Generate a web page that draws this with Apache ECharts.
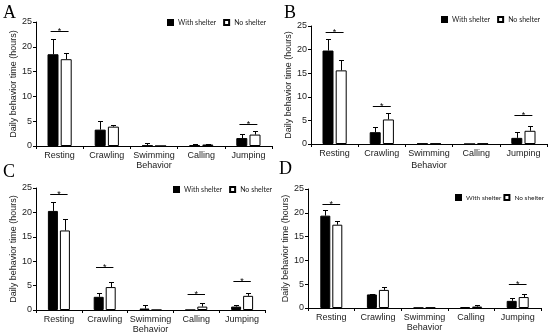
<!DOCTYPE html>
<html>
<head>
<meta charset="utf-8">
<script src="https://cdn.jsdelivr.net/npm/echarts@6/dist/echarts.min.js"></script>
<style>
html,body{margin:0;padding:0;background:#fff;}
#chart{width:550px;height:335px;}
</style>
</head>
<body>
<div id="chart"></div>
<script>
// ---------- data ----------
const categories = ['Resting', 'Crawling', 'Swimming', 'Calling', 'Jumping'];
const yTicks = [0, 5, 10, 15, 20, 25];
const panelLabels = ['A', 'B', 'C', 'D'];
const seriesNames = ['With shelter', 'No shelter'];

// Panel A
const withA    = [18.5, 3.3, 0.1, 0.2, 1.6];
const withErrA = [21.5, 5.0, 0.6, 0.35, 2.5];
const noA      = [17.5, 3.9, 0.0, 0.3, 2.3];
const noErrA   = [18.7, 4.2, 0.0, 0.5, 3.0];
const sigA     = [[0, 23.2], [4, 4.4]];

// Panel B
const withB    = [19.8, 2.5, 0.1, 0.0, 1.3];
const withErrB = [22.2, 3.5, 0.1, 0.0, 2.5];
const noB      = [15.6, 5.2, 0.1, 0.1, 2.8];
const noErrB   = [17.9, 6.6, 0.1, 0.1, 3.8];
const sigB     = [[0, 23.7], [1, 8.0], [4, 6.1]];

// Panel C
const withC    = [20.3, 2.7, 0.3, 0.0, 0.7];
const withErrC = [22.1, 3.4, 1.1, 0.0, 1.1];
const noC      = [16.3, 4.7, 0.0, 0.7, 2.9];
const noErrC   = [18.6, 5.7, 0.0, 1.4, 3.5];
const sigC     = [[0, 23.8], [1, 8.8], [3, 3.3], [4, 5.9]];

// Panel D
const withD    = [19.4, 2.85, 0.05, 0.2, 1.5];
const withErrD = [20.5, 3.0, 0.05, 0.3, 2.0];
const noD      = [17.5, 3.8, 0.1, 0.3, 2.3];
const noErrD   = [18.3, 4.4, 0.1, 0.6, 2.85];
const sigD     = [[0, 21.8], [4, 5.1]];

const panels = [
  {w: withA, we: withErrA, n: noA, ne: noErrA, sig: sigA},
  {w: withB, we: withErrB, n: noB, ne: noErrB, sig: sigB},
  {w: withC, we: withErrC, n: noC, ne: noErrC, sig: sigC},
  {w: withD, we: withErrD, n: noD, ne: noErrD, sig: sigD}
];

// ---------- layout ----------
const layout = [
  {grid: {left: 36, top: 22, width: 236, height: 124}, title: {left: 3, top: 4}, legend: {left: 167, top: 19, fs: 7, gap: 7}, yGap: 18, xGap: 14, bw: 11},
  {grid: {left: 311, top: 26, width: 236, height: 118}, title: {left: 284, top: 4}, legend: {left: 441, top: 16, fs: 7, gap: 7}, yGap: 18, xGap: 17, bw: 11},
  {grid: {left: 36, top: 188, width: 229, height: 122}, title: {left: 3, top: 163}, legend: {left: 173, top: 186, fs: 7, gap: 7}, yGap: 17, xGap: 13, bw: 10},
  {grid: {left: 308, top: 189, width: 233, height: 119}, title: {left: 279, top: 160}, legend: {left: 455, top: 194, fs: 6.5, gap: 2}, yGap: 16, xGap: 11, bw: 10}
];

const txt = '#222';
const labelFont = 'Liberation Sans';

const option = {
  animation: false,
  backgroundColor: '#fff',
  title: [], legend: [], grid: [], xAxis: [], yAxis: [], series: []
};

panels.forEach((p, i) => {
  const L = layout[i];
  option.title.push({
    text: panelLabels[i], left: L.title.left, top: L.title.top, padding: 0,
    textStyle: {fontFamily: 'Liberation Serif', fontSize: 18, fontWeight: 'normal', color: '#000'}
  });
  option.legend.push({
    data: seriesNames, left: L.legend.left, top: L.legend.top, width: 140, orient: 'horizontal', padding: 0,
    itemWidth: 5, itemHeight: 5, itemGap: L.legend.gap, icon: 'rect', selectedMode: false,
    textStyle: {fontFamily: 'Lato', fontSize: L.legend.fs, color: txt}
  });
  option.grid.push(Object.assign({containLabel: false}, L.grid));
  option.xAxis.push({
    type: 'category', gridIndex: i, data: categories,
    name: 'Behavior', nameLocation: 'middle', nameGap: L.xGap,
    nameTextStyle: {fontFamily: labelFont, fontSize: 9, color: txt},
    axisLine: {lineStyle: {color: '#000', width: 1}},
    axisTick: {show: true, length: 3, lineStyle: {color: '#000'}},
    axisLabel: {fontFamily: labelFont, fontSize: 9, color: txt, margin: 5, interval: 0}
  });
  option.yAxis.push({
    type: 'value', gridIndex: i, min: yTicks[0], max: yTicks[yTicks.length - 1], interval: yTicks[1] - yTicks[0],
    name: 'Daily behavior time (hours)', nameLocation: 'middle', nameGap: L.yGap,
    nameTextStyle: {fontFamily: labelFont, fontSize: 9, color: txt},
    axisLine: {show: true, lineStyle: {color: '#000', width: 1}},
    axisTick: {show: true, length: 3, lineStyle: {color: '#000'}},
    axisLabel: {fontFamily: labelFont, fontSize: 9, color: txt, margin: 4},
    splitLine: {show: false}
  });
  const bw = L.bw;
  const gapPct = 20;
  option.series.push({
    name: seriesNames[0], type: 'bar', xAxisIndex: i, yAxisIndex: i, data: p.w,
    barWidth: bw, barGap: gapPct + '%',
    itemStyle: {color: '#000', borderColor: '#000', borderWidth: 1}
  });
  option.series.push({
    name: seriesNames[1], type: 'bar', xAxisIndex: i, yAxisIndex: i, data: p.n,
    barWidth: bw, barGap: gapPct + '%',
    itemStyle: {color: '#fff', borderColor: '#000', borderWidth: 1}
  });
  const off = (bw + bw * gapPct / 100) / 2;
  const errData = [];
  categories.forEach((c, k) => {
    errData.push([k, p.w[k], p.we[k], 0]);
    errData.push([k, p.n[k], p.ne[k], 1]);
  });
  option.series.push({
    type: 'custom', xAxisIndex: i, yAxisIndex: i, data: errData, z: 5, silent: true,
    renderItem: (params, api) => {
      const cat = api.value(0), mean = api.value(1), top = api.value(2), grp = api.value(3);
      if (!(top > mean)) return null;
      const b = api.coord([cat, mean]);
      const t = api.coord([cat, top]);
      const x = Math.round(b[0] + (grp === 0 ? -off : off)) + 0.5;
      const ty = Math.round(t[1]) + 0.5;
      return {type: 'group', children: [
        {type: 'line', shape: {x1: x, y1: b[1], x2: x, y2: ty}, style: {stroke: '#000', lineWidth: 1}},
        {type: 'line', shape: {x1: x - 2.5, y1: ty, x2: x + 2.5, y2: ty}, style: {stroke: '#000', lineWidth: 1}}
      ]};
    }
  });
  option.series.push({
    type: 'custom', xAxisIndex: i, yAxisIndex: i, data: p.sig, z: 5, silent: true,
    renderItem: (params, api) => {
      const c = api.coord([api.value(0), api.value(1)]);
      const half = api.size([1, 0])[0] * 0.19;
      const y = Math.round(c[1]) + 0.5;
      return {type: 'group', children: [
        {type: 'line', shape: {x1: c[0] - half, y1: y, x2: c[0] + half, y2: y}, style: {stroke: '#000', lineWidth: 1}},
        {type: 'text', style: {text: '*', x: c[0], y: y + 0.5, align: 'center', verticalAlign: 'middle', font: '9px "Liberation Sans"', fill: '#000'}}
      ]};
    }
  });
});

const chart = echarts.init(document.getElementById('chart'), null, {renderer: 'canvas'});
chart.setOption(option);
</script>
</body>
</html>
